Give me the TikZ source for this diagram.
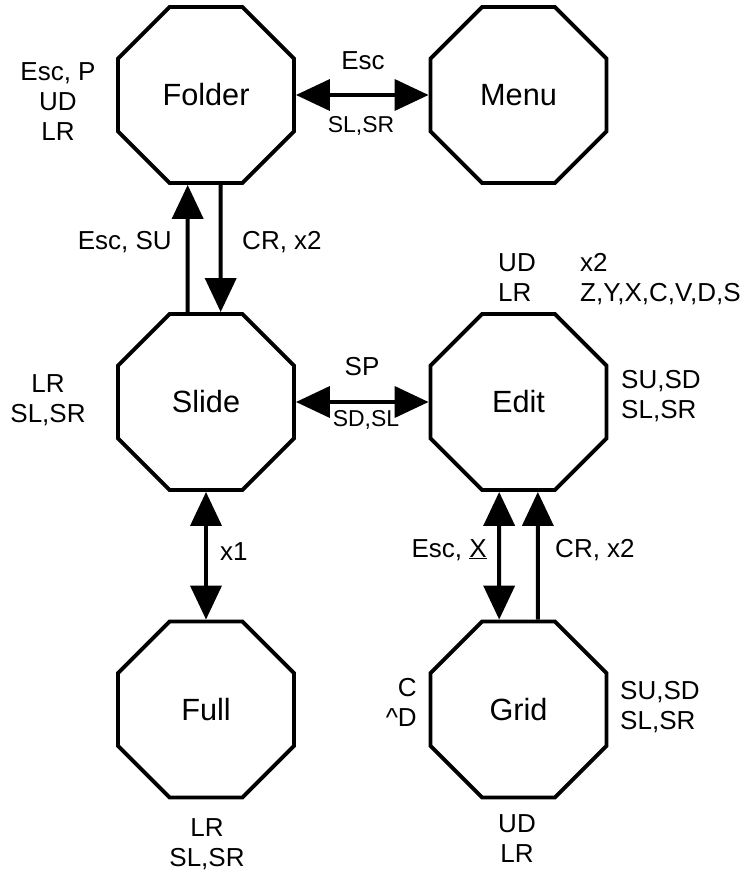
\documentclass[tikz,border=0pt]{standalone}
\usepackage{fontspec}
\setmainfont{Liberation Sans}
\usetikzlibrary{shapes.geometric,arrows.meta}

\begin{document}
\begin{tikzpicture}[x=0.03cm,y=-0.03cm]
\tikzstyle{state}=[draw,regular polygon,regular polygon sides=8,minimum size=5.715cm,line width=3.3pt,inner sep=0pt,font=\fontsize{26.2pt}{31pt}\selectfont];
\tikzstyle{lbl}=[inner sep=0pt,font=\fontsize{22.2pt}{25.6pt}\selectfont];
\tikzstyle{small}=[inner sep=0pt,font=\fontsize{19.6pt}{23pt}\selectfont];
\tikzstyle{arr}=[line width=3.3pt,-{Triangle[length=1.02cm,width=0.93cm]}];
\tikzstyle{both}=[line width=3.3pt,{Triangle[length=1.02cm,width=0.93cm]}-{Triangle[length=1.02cm,width=0.93cm]}];
\useasboundingbox (0,0) rectangle (746,873);

\node[state] (folder) at (206,95) {Folder};
\node[state] (menu) at (518.5,95) {Menu};
\node[state] (slide) at (206,402) {Slide};
\node[state] (edit) at (518.5,402) {Edit};
\node[state] (full) at (206,709.5) {Full};
\node[state] (grid) at (518.5,709.5) {Grid};

\draw[both] (folder.east) -- (menu.west);
\draw[arr] ([xshift=-0.55cm]slide.north) -- ([xshift=-0.55cm]folder.south);
\draw[arr] ([xshift=0.44cm]folder.south) -- ([xshift=0.44cm]slide.north);
\draw[both] (slide.east) -- (edit.west);
\draw[both] (slide.south) -- (full.north);
\draw[both] ([xshift=-0.58cm]edit.south) -- ([xshift=-0.58cm]grid.north);
\draw[arr] ([xshift=0.58cm]grid.north) -- ([xshift=0.58cm]edit.south);

\node[lbl,align=center,anchor=north] (folderkeys) at (58,62) {Esc, P\\UD\\LR};
\node[lbl,anchor=base] (fmtop) at (363,70) {Esc};
\node[small,anchor=base] (fmbot) at (361,133) {SL,SR};
\node[lbl,anchor=base east] (fsleft) at (172,249) {Esc, SU};
\node[lbl,anchor=base west] (fsright) at (242,249) {CR, x2};
\node[lbl,align=left,anchor=north west] (editnav) at (498,253) {UD\\LR};
\node[lbl,align=left,anchor=north west] (editcmd) at (580,253) {x2\\Z,Y,X,C,V,D,S};
\node[lbl,align=center,anchor=north] (slidekeys) at (48,374) {LR\\SL,SR};
\node[lbl,anchor=base] (setop) at (362,375) {SP};
\node[small,anchor=base] (sebot) at (366,426) {SD,SL};
\node[lbl,align=left,anchor=north west] (editkeys) at (621,370) {SU,SD\\SL,SR};
\node[lbl,anchor=base west] (sfright) at (220,560) {x1};
\node[lbl,anchor=base east] (egleft) at (487,557) {Esc, \underline{X}};
\node[lbl,anchor=base west] (egright) at (555,557) {CR, x2};
\node[lbl,align=center,anchor=north] (fullkeys) at (207,818) {LR\\SL,SR};
\node[lbl,align=right,anchor=north east] (gridleft) at (417,678) {C\\\textasciicircum D};
\node[lbl,align=left,anchor=north west] (gridright) at (620,681) {SU,SD\\SL,SR};
\node[lbl,align=center,anchor=north] (gridkeys) at (517,814) {UD\\LR};
\end{tikzpicture}
\end{document}
